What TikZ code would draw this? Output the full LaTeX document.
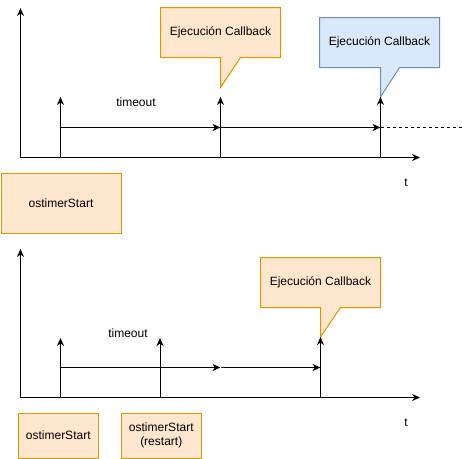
\documentclass[tikz,border=0pt]{standalone}
\usepackage{fontspec}
\setmainfont{Liberation Sans}
\usetikzlibrary{arrows.meta}
\definecolor{ofill}{HTML}{FFE6CC}
\definecolor{odraw}{HTML}{D79B00}
\definecolor{bfill}{HTML}{DAE8FC}
\definecolor{bdraw}{HTML}{6C8EBF}
\begin{document}
\begin{tikzpicture}[x=1pt,y=-1pt,line width=1pt,
  arr/.style={-{Stealth[length=8pt,width=7pt,inset=2.5pt]}},
  lbl/.style={font=\fontsize{12}{14}\selectfont,inner sep=0pt,align=center},
  obox/.style={draw=odraw,fill=ofill,line width=1pt,font=\fontsize{12}{14}\selectfont,align=center,inner sep=0pt},
  ocall/.style={draw=odraw,fill=ofill,line width=1pt,line join=miter},
  bcall/.style={draw=bdraw,fill=bfill,line width=1pt,line join=miter},
  dashline/.style={dash pattern=on 3pt off 3pt}
]
\useasboundingbox (0,0) rectangle (462,458);

% ---------- top chart ----------
\draw[ocall] (160.5,7.5) -- (280.5,7.5) -- (280.5,57.5) -- (240.5,57.5) -- (220.5,87.5) -- (220.5,57.5) -- (160.5,57.5) -- cycle;
\node[lbl] (cb1) at (220.5,32.5) {Ejecución Callback};
\draw[bcall] (319.5,17.5) -- (439.5,17.5) -- (439.5,67.5) -- (399.5,67.5) -- (380.5,97) -- (380.5,67.5) -- (319.5,67.5) -- cycle;
\node[lbl] (cb2) at (379.5,42.5) {Ejecución Callback};

\coordinate (o1) at (20.5,157.5);
\coordinate (y1) at (20.5,8);
\coordinate (x1) at (420,157.5);
\draw[arr] (o1) -- (y1);
\draw[arr] (o1) -- (x1);

\coordinate (a1b) at (60.5,157.5);  \coordinate (a1t) at (60.5,97);
\coordinate (a2b) at (220.5,157.5); \coordinate (a2t) at (220.5,97);
\coordinate (a3b) at (380.5,157.5); \coordinate (a3t) at (380.5,97);
\draw[arr] (a1b) -- (a1t);
\draw[arr] (a2b) -- (a2t);
\draw[arr] (a3b) -- (a3t);

\coordinate (h1) at (60.5,127.5);
\coordinate (h2) at (220.5,127.5);
\coordinate (h3) at (380.5,127.5);
\coordinate (h4) at (462,127.5);
\draw[arr] (h1) -- (h2);
\draw[arr] (h2) -- (h3);
\draw[dashline] (h3) -- (h4);

\node[lbl] (to1) at (136,102) {timeout};
\node[lbl] (t1) at (406,183) {t};
\node[obox,minimum width=120pt,minimum height=60pt,anchor=north west] (s1) at (0.5,172.5) {ostimerStart};

% ---------- bottom chart ----------
\draw[ocall] (260.5,257.5) -- (380.5,257.5) -- (380.5,307.5) -- (340.5,307.5) -- (320.5,337) -- (320.5,307.5) -- (260.5,307.5) -- cycle;
\node[lbl] (cb3) at (320.5,282.5) {Ejecución Callback};

\coordinate (o2) at (20.5,397.5);
\coordinate (y2) at (20.5,249);
\coordinate (x2) at (420,397.5);
\draw[arr] (o2) -- (y2);
\draw[arr] (o2) -- (x2);

\coordinate (b1b) at (60.5,397.5);  \coordinate (b1t) at (60.5,338);
\coordinate (b2b) at (160,397.5);   \coordinate (b2t) at (160,338);
\coordinate (b3b) at (320.5,397.5); \coordinate (b3t) at (320.5,337);
\draw[arr] (b1b) -- (b1t);
\draw[arr] (b2b) -- (b2t);
\draw[arr] (b3b) -- (b3t);

\coordinate (g1) at (60.5,367.5);
\coordinate (g2) at (220.5,367.5);
\coordinate (g3) at (320.5,367.5);
\draw[arr] (g1) -- (g2);
\draw[arr] (g2) -- (g3);

\node[lbl] (to2) at (128,333) {timeout};
\node[lbl] (t2) at (406,423) {t};
\node[obox,minimum width=80.5pt,minimum height=45pt,anchor=north west] (s2) at (17.5,412.5) {ostimerStart};
\node[obox,minimum width=80.5pt,minimum height=45pt,anchor=north west] (s3) at (120.5,412.5) {ostimerStart\\(restart)};
\end{tikzpicture}
\end{document}
